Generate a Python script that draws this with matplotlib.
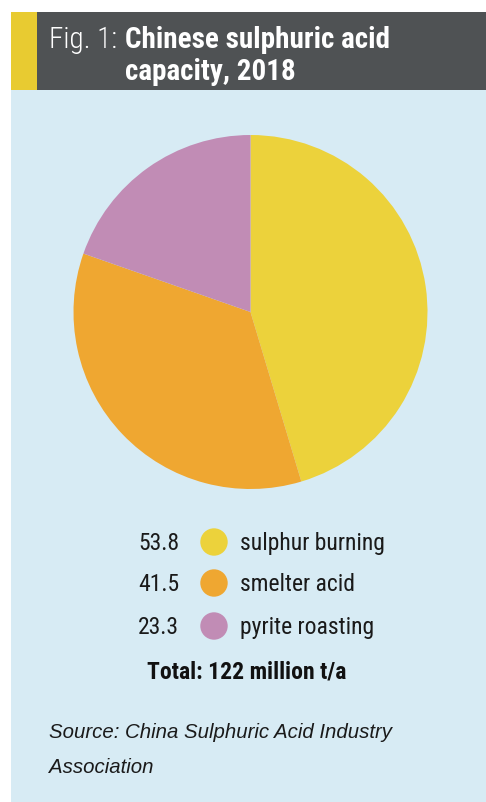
import matplotlib
matplotlib.use("Agg")
import matplotlib.pyplot as plt
from matplotlib.patches import Rectangle, Circle
from matplotlib import font_manager

# Data
sources = ["sulphur burning", "smelter acid", "pyrite roasting"]
capacity = [53.8, 41.5, 23.3]
colors = ["#ECD23B", "#EFA731", "#C18CB5"]
total_label = "Total: 122 million t/a"

W, H = 486, 802
DPI = 100

# pick a condensed face if one is around
names = {f.name for f in font_manager.fontManager.ttflist}
narrow = "DejaVu Sans"
for cand in ["Roboto Condensed", "Archivo Narrow", "PT Sans Narrow",
             "Liberation Sans Narrow", "Open Sans Condensed"]:
    if cand in names:
        narrow = cand
        break
stretch = "normal" if narrow != "DejaVu Sans" else "condensed"

fig = plt.figure(figsize=(W / DPI, H / DPI), dpi=DPI)
fig.patch.set_facecolor("white")

# background axes in pixel coordinates (y downwards)
bg = fig.add_axes([0, 0, 1, 1])
bg.set_xlim(0, W)
bg.set_ylim(H, 0)
bg.axis("off")

bg.add_patch(Rectangle((11, 90), W - 11, H - 90, color="#D7EBF4", lw=0))
bg.add_patch(Rectangle((11, 12), W - 11, 78, color="#4F5254", lw=0))
bg.add_patch(Rectangle((11, 12), 26, 78, color="#E8CB31", lw=0))

# header
hdr = dict(color="white", fontsize=21, family=narrow, fontstretch=stretch,
           va="baseline", ha="left")
bg.text(49, 48, "Fig. 1:", fontweight="light", **hdr)
bg.text(125, 48, "Chinese sulphuric acid", fontweight="bold", **hdr)
bg.text(125, 80, "capacity, 2018", fontweight="bold", **hdr)

# pie
cx, cy, r = 250.5, 312, 177
pax = fig.add_axes([(cx - r) / W, (H - cy - r) / H, 2 * r / W, 2 * r / H])
pax.pie(capacity, colors=colors, startangle=90, counterclock=False,
        wedgeprops=dict(linewidth=0))
pax.set_xlim(-1, 1)
pax.set_ylim(-1, 1)
pax.set_aspect("equal")
pax.axis("off")

# legend
rows_y = [542, 583, 626]
leg = dict(fontsize=17, family=narrow, fontstretch=stretch, color="#1A1A1A",
           va="baseline")
for val, name, col, y in zip(capacity, sources, colors, rows_y):
    bg.text(179, y + 8, f"{val:.1f}", ha="right", **leg)
    bg.add_patch(Circle((214, y), 13.7, color=col, lw=0))
    bg.text(240, y + 8, name, ha="left", **leg)

bg.text(247, 678, total_label, fontsize=17, family=narrow, fontstretch=stretch,
        fontweight="bold", color="#111111", ha="center", va="baseline")

# source
src = dict(fontsize=14.7, family="Liberation Sans", style="italic",
           color="#1A1A1A", ha="left", va="baseline")
bg.text(49, 738, "Source: China Sulphuric Acid Industry", **src)
bg.text(49, 773, "Association", **src)

fig.savefig("out.png", dpi=DPI)
